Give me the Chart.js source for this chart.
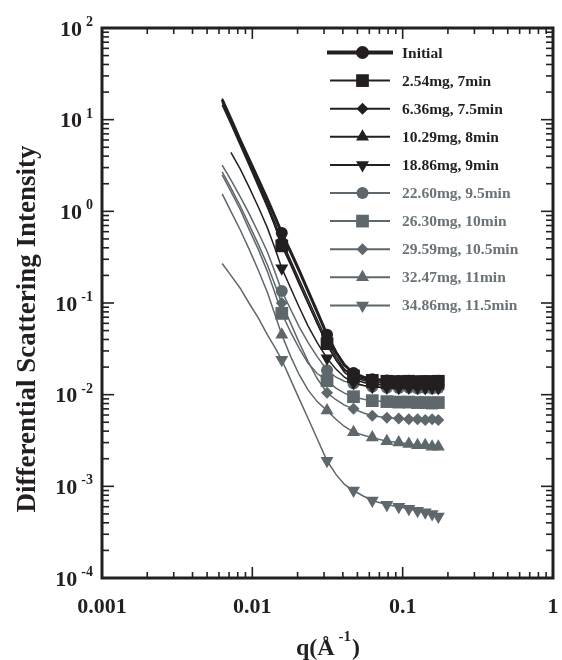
<!DOCTYPE html>
<html>
<head>
<meta charset="utf-8">
<script src="https://cdn.jsdelivr.net/npm/chart.js@4.4.1/dist/chart.umd.min.js"></script>
<style>
  html, body { margin: 0; padding: 0; background: #fff; }
  #wrap { width: 562px; height: 660px; }
</style>
</head>
<body>
<div id="wrap"><canvas id="sasChart" width="562" height="660"></canvas></div>
<script>
// q values (1/Angstrom) shared by all curves
const qValues = [0.0063, 0.0072, 0.0083, 0.0095, 0.0110, 0.0126, 0.0141, 0.0157, 0.0180, 0.0205,
  0.0235, 0.0270, 0.0314, 0.0360, 0.0410, 0.0471, 0.0550, 0.0628, 0.0785, 0.0942,
  0.1099, 0.1256, 0.1413, 0.1570, 0.1727];

// intensities
const initial = [16.5, 10.2, 6.0, 3.7, 2.2, 1.35, 0.88, 0.58, 0.36, 0.225, 0.135, 0.080, 0.045, 0.029, 0.021,
  0.0172, 0.0155, 0.0147, 0.0143, 0.0141, 0.0142, 0.0140, 0.0141, 0.0140, 0.0142];
const mg254 = [17.0, 10.0, 5.7, 3.4, 1.95, 1.15, 0.70, 0.42, 0.26, 0.16, 0.098, 0.060, 0.036, 0.024, 0.0185,
  0.0160, 0.0148, 0.0143, 0.0140, 0.0139, 0.0140, 0.0138, 0.0139, 0.0138, 0.0140];
const mg636 = [15.5, 9.5, 5.6, 3.4, 2.0, 1.2, 0.76, 0.48, 0.29, 0.18, 0.110, 0.066, 0.039, 0.026, 0.0190,
  0.0158, 0.0143, 0.0137, 0.0133, 0.0132, 0.0131, 0.0132, 0.0131, 0.0130, 0.0131];
const mg1029 = [14.5, 9.0, 5.3, 3.2, 1.85, 1.1, 0.70, 0.45, 0.27, 0.165, 0.100, 0.060, 0.035, 0.024, 0.0175,
  0.0148, 0.0136, 0.0130, 0.0127, 0.0126, 0.0127, 0.0126, 0.0125, 0.0126, 0.0125];
const mg1886 = [null, 4.4, 2.9, 1.85, 1.1, 0.66, 0.40, 0.24, 0.145, 0.090, 0.056, 0.037, 0.025, 0.019, 0.0155,
  0.0135, 0.0126, 0.0122, 0.0120, 0.0119, 0.0120, 0.0119, 0.0118, 0.0119, 0.0118];
const mg2260 = [3.2, 2.2, 1.45, 0.95, 0.58, 0.36, 0.22, 0.135, 0.085, 0.055, 0.037, 0.026, 0.0185, 0.0155, 0.0140,
  0.0132, 0.0126, 0.0122, 0.0119, 0.0118, 0.0119, 0.0117, 0.0118, 0.0117, 0.0118];
const mg2630 = [2.5, 1.65, 1.05, 0.64, 0.38, 0.22, 0.13, 0.077, 0.048, 0.032, 0.0220, 0.0170, 0.0142, 0.0118, 0.0104,
  0.0095, 0.0089, 0.0086, 0.0084, 0.0083, 0.0083, 0.0082, 0.0082, 0.0081, 0.0082];
const mg2959 = [2.7, 1.8, 1.15, 0.72, 0.43, 0.26, 0.16, 0.100, 0.060, 0.037, 0.0230, 0.0150, 0.0105, 0.0088, 0.0077,
  0.0070, 0.0063, 0.0059, 0.0056, 0.0055, 0.0054, 0.0054, 0.0053, 0.0054, 0.0053];
const mg3247 = [1.55, 1.0, 0.63, 0.39, 0.225, 0.13, 0.076, 0.045, 0.026, 0.0165, 0.0112, 0.0084, 0.0067, 0.0054, 0.0045,
  0.0039, 0.0036, 0.0034, 0.0031, 0.0030, 0.0029, 0.0028, 0.0028, 0.0027, 0.0027];
const mg3486 = [0.27, 0.20, 0.145, 0.100, 0.068, 0.045, 0.033, 0.024, 0.0145, 0.0090, 0.0055, 0.0033, 0.0019, 0.00135, 0.00105,
  0.00090, 0.00078, 0.00070, 0.00063, 0.00060, 0.00057, 0.00054, 0.00052, 0.00050, 0.00047];

const seriesLabels = ['Initial', '2.54mg, 7min', '6.36mg, 7.5min', '10.29mg, 8min', '18.86mg, 9min',
  '22.60mg, 9.5min', '26.30mg, 10min', '29.59mg, 10.5min', '32.47mg, 11min', '34.86mg, 11.5min'];
const seriesValues = [initial, mg254, mg636, mg1029, mg1886, mg2260, mg2630, mg2959, mg3247, mg3486];
const seriesMarkers = ['circle', 'rect', 'rectRot', 'triangle', 'triangleDown',
  'circle', 'rect', 'rectRot', 'triangle', 'triangleDown'];

// data indices that carry a symbol
const markerIdx = [7, 12, 15, 17, 18, 19, 20, 21, 22, 23, 24];

const xTickValues = [0.001, 0.01, 0.1, 1];
const xTickLabels = ['0.001', '0.01', '0.1', '1'];
const yTickExponents = [2, 1, 0, -1, -2, -3, -4];

const BLACK = '#231f20';
const GREY = '#5e686c';
const GREY_TEXT = '#6a7377';
const SERIF = '"Liberation Serif", "Times New Roman", serif';

const markerSize = { circle: 6, rect: 9, rectRot: 6, triangle: 7.5, triangleDown: 7.5 };

function styleFor(m) {
  return m === 'triangleDown' ? 'triangle' : m;
}

const datasets = seriesValues.map((vals, i) => {
  const color = i < 5 ? BLACK : GREY;
  const m = seriesMarkers[i];
  return {
    label: seriesLabels[i],
    data: qValues.map((q, k) => ({ x: q, y: vals[k] })),
    borderColor: color,
    backgroundColor: color,
    borderWidth: i === 0 ? 3 : 1.5,
    pointStyle: styleFor(m),
    pointRotation: m === 'triangleDown' ? 180 : 0,
    pointRadius: ctx => markerIdx.includes(ctx.dataIndex) ? markerSize[m] : 0,
    pointBorderWidth: 0,
    tension: 0,
    spanGaps: false
  };
});

function drawMarker(ctx, m, x, y, r) {
  ctx.beginPath();
  if (m === 'circle') {
    ctx.arc(x, y, r, 0, Math.PI * 2);
  } else if (m === 'rect') {
    const s = r * Math.SQRT1_2;
    ctx.rect(x - s, y - s, 2 * s, 2 * s);
  } else if (m === 'rectRot') {
    ctx.moveTo(x, y - r); ctx.lineTo(x + r, y); ctx.lineTo(x, y + r); ctx.lineTo(x - r, y);
  } else if (m === 'triangle') {
    ctx.moveTo(x, y - r);
    ctx.lineTo(x + r * 0.866, y + r * 0.5);
    ctx.lineTo(x - r * 0.866, y + r * 0.5);
  } else {
    ctx.moveTo(x, y + r);
    ctx.lineTo(x + r * 0.866, y - r * 0.5);
    ctx.lineTo(x - r * 0.866, y - r * 0.5);
  }
  ctx.closePath();
  ctx.fill();
}

function seg(ctx, x1, y1, x2, y2) {
  ctx.beginPath(); ctx.moveTo(x1, y1); ctx.lineTo(x2, y2); ctx.stroke();
}

// box, inward ticks on all four sides
const framePlugin = {
  id: 'frame',
  afterDatasetsDraw(chart) {
    const { ctx, chartArea: a, scales: { x, y } } = chart;
    ctx.save();
    ctx.strokeStyle = BLACK;
    ctx.lineWidth = 1.6;
    for (let d = -3; d <= 0; d++) {
      for (let m = 1; m <= 9; m++) {
        const v = m * Math.pow(10, d);
        if (v > 1.0001) break;
        const px = x.getPixelForValue(v);
        const len = m === 1 ? 11 : 6;
        seg(ctx, px, a.bottom, px, a.bottom - len);
        seg(ctx, px, a.top, px, a.top + len);
      }
    }
    for (let d = -4; d <= 2; d++) {
      for (let m = 1; m <= 9; m++) {
        const v = m * Math.pow(10, d);
        if (v > 100.001) break;
        const py = y.getPixelForValue(v);
        const len = m === 1 ? 12 : 7;
        seg(ctx, a.left, py, a.left + len, py);
        seg(ctx, a.right, py, a.right - len, py);
      }
    }
    ctx.lineWidth = 3;
    ctx.strokeRect(a.left, a.top, a.right - a.left, a.bottom - a.top);
    ctx.restore();
  },
  afterDraw(chart) {
    const { ctx, chartArea: a, scales: { x, y } } = chart;
    ctx.save();
    ctx.fillStyle = BLACK;

    // x tick labels
    ctx.font = 'bold 22px ' + SERIF;
    ctx.textAlign = 'center';
    ctx.textBaseline = 'alphabetic';
    xTickValues.forEach((v, i) => {
      ctx.fillText(xTickLabels[i], x.getPixelForValue(v), a.bottom + 35);
    });

    // y tick labels: 10 with raised exponent
    yTickExponents.forEach(e => {
      const py = y.getPixelForValue(Math.pow(10, e));
      const exp = String(e);
      ctx.font = 'bold 14px ' + SERIF;
      const ew = ctx.measureText(exp).width;
      ctx.textAlign = 'left';
      const expX = a.left - 9 - ew;
      ctx.fillText(exp, expX, py - 2);
      ctx.font = 'bold 22px ' + SERIF;
      ctx.textAlign = 'right';
      ctx.fillText('10', expX - 4, py + 7.5);
    });

    // x title q(Å^-1)
    const tx = 296, ty = 655;
    ctx.textAlign = 'left';
    ctx.font = 'bold 24px ' + SERIF;
    ctx.fillText('q(Å', tx, ty);
    let w = ctx.measureText('q(Å').width;
    ctx.font = 'bold 15px ' + SERIF;
    ctx.fillText(' -1', tx + w, ty - 14);
    const w2 = ctx.measureText(' -1').width;
    ctx.font = 'bold 24px ' + SERIF;
    ctx.fillText(')', tx + w + w2 + 1, ty);

    // y title
    ctx.save();
    ctx.translate(28, (a.top + a.bottom) / 2 + 26);
    ctx.rotate(-Math.PI / 2);
    ctx.textAlign = 'center';
    ctx.textBaseline = 'middle';
    ctx.font = 'bold 27px ' + SERIF;
    ctx.fillText('Differential Scattering Intensity', 0, 0);
    ctx.restore();

    // legend
    ctx.textAlign = 'left';
    ctx.textBaseline = 'middle';
    ctx.font = 'bold 15.5px ' + SERIF;
    seriesLabels.forEach((lab, i) => {
      const ly = 52.5 + i * 28.1;
      const color = i < 5 ? BLACK : GREY;
      ctx.strokeStyle = color;
      ctx.fillStyle = color;
      ctx.lineWidth = i === 0 ? 4 : 2;
      if (i === 0) seg(ctx, 327, ly, 393, ly); else seg(ctx, 330, ly, 390, ly);
      const m = seriesMarkers[i];
      drawMarker(ctx, m, 362.5, ly, i === 0 ? 6.5 : markerSize[m]);
      ctx.fillStyle = i < 5 ? BLACK : GREY_TEXT;
      ctx.fillText(lab, 402, ly + 1);
    });
    ctx.restore();
  }
};

const ctx = document.getElementById('sasChart').getContext('2d');
const sasChart = new Chart(ctx, {
  type: 'line',
  data: { datasets: datasets },
  options: {
    responsive: false,
    devicePixelRatio: 1,
    animation: false,
    layout: { padding: { left: 102, top: 28, right: 7, bottom: 82 } },
    plugins: { legend: { display: false }, tooltip: { enabled: false } },
    scales: {
      x: { type: 'logarithmic', min: 0.001, max: 1, display: false },
      y: { type: 'logarithmic', min: 0.0001, max: 100, display: false }
    }
  },
  plugins: [framePlugin]
});
</script>
</body>
</html>
